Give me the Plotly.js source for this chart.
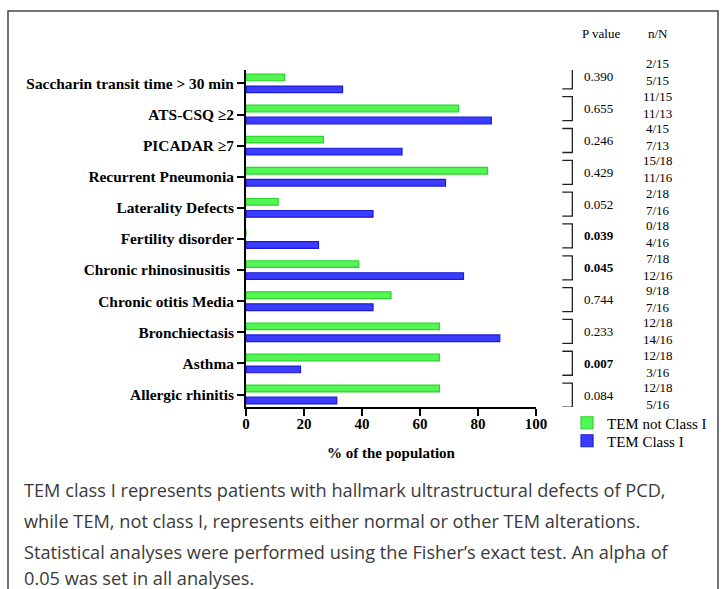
<!DOCTYPE html>
<html>
<head>
<meta charset="utf-8">
<script src="https://cdn.plot.ly/plotly-3.0.1.min.js"></script>
<style>html,body{margin:0;padding:0;background:#fff;}#chart{width:722px;height:589px;}</style>
</head>
<body>
<div id="chart"></div>
<script>
var categories = ["Saccharin transit time > 30 min", "ATS-CSQ \u22652", "PICADAR \u22657", "Recurrent Pneumonia", "Laterality Defects", "Fertility disorder", "Chronic rhinosinusitis\u00a0", "Chronic otitis Media", "Bronchiectasis", "Asthma", "Allergic rhinitis"];
var notClassI = [13.3, 73.3, 26.7, 83.3, 11.1, 0, 38.9, 50.0, 66.7, 66.7, 66.7];
var classI = [33.3, 84.6, 53.8, 68.8, 43.8, 25.0, 75.0, 43.8, 87.5, 18.8, 31.3];
var pValues = ["0.390", "0.655", "0.246", "0.429", "0.052", "0.039", "0.045", "0.744", "0.233", "0.007", "0.084"];
var significant = [false, false, false, false, false, true, true, false, false, true, false];
var nNotClassI = ["2/15", "11/15", "4/15", "15/18", "2/18", "0/18", "7/18", "9/18", "12/18", "12/18", "12/18"];
var nClassI = ["5/15", "11/13", "7/13", "11/16", "7/16", "4/16", "12/16", "7/16", "14/16", "3/16", "5/16"];
var seriesNames = ["TEM not Class I", "TEM Class I"];
var xTicks = [0, 20, 40, 60, 80, 100];
var captionLines = [
  "TEM class I represents patients with hallmark ultrastructural defects of PCD,",
  "while TEM, not class I, represents either normal or other TEM alterations.",
  "Statistical analyses were performed using the Fisher\u2019s exact test. An alpha of",
  "0.05 was set in all analyses."
];

var serif = "Liberation Serif, Times New Roman, serif";

var traces = [
  {type: "bar", orientation: "h", name: seriesNames[0], y: categories, x: notClassI,
   width: 0.215, offset: -0.3, legend: "legend",
   marker: {color: "#55f555", line: {color: "#2bd62b", width: 1.2}}, hoverinfo: "x+y"},
  {type: "bar", orientation: "h", name: seriesNames[1], y: categories, x: classI,
   width: 0.215, offset: 0.085, legend: "legend2",
   marker: {color: "#3c3cff", line: {color: "#1c1cd8", width: 1.2}}, hoverinfo: "x+y"}
];

// pixel per category unit (plot height 337 px over 10.83 units)
var ppu = 337 / 10.83;
var annotations = [];
var shapes = [];
var pX = 1.158, nX = 1.42, brX = 1.108;
annotations.push({xref: "paper", yref: "paper", x: 1.224, y: 1.107, text: "P value", showarrow: false,
  xanchor: "center", yanchor: "middle", font: {family: serif, size: 13, color: "#000"}});
annotations.push({xref: "paper", yref: "paper", x: nX, y: 1.107, text: "n/N", showarrow: false,
  xanchor: "center", yanchor: "middle", font: {family: serif, size: 13, color: "#000"}});
for (var i = 0; i < categories.length; i++) {
  var yp = i + (-6.5 + 0.7 * i) / ppu;
  var yn = i + (-11 + 1.25 * i) / ppu;
  annotations.push({xref: "paper", yref: "y", x: pX, y: yp, text: significant[i] ? "<b>" + pValues[i] + "</b>" : pValues[i],
    showarrow: false, xanchor: "left", yanchor: "middle", font: {family: serif, size: 13, color: "#000"}});
  annotations.push({xref: "paper", yref: "y", x: nX, y: yn, text: nNotClassI[i] + "<br>" + nClassI[i],
    showarrow: false, xanchor: "center", yanchor: "middle", font: {family: serif, size: 13, color: "#000"}});
  shapes.push({type: "path", xref: "paper", yref: "y", xsizemode: "pixel", ysizemode: "pixel",
    xanchor: brX, yanchor: yp, path: "M -5 12 H 5 V -12 H -5",
    line: {color: "#222", width: 1.3}});
}
var capY = [-0.2463, -0.3383, -0.4288, -0.5074];
for (var k = 0; k < captionLines.length; k++) {
  annotations.push({xref: "paper", yref: "paper", x: -0.7724, y: capY[k], text: captionLines[k], showarrow: false,
    xanchor: "left", yanchor: "middle", font: {family: "Open Sans, sans-serif", size: 18.2, color: "#3a3a3a"}});
}
// frame
shapes.push({type: "path", xref: "paper", yref: "paper", path: "M -0.8207 -0.6 L -0.8207 1.175 L 1.6276 1.175 L 1.6276 -0.6",
  line: {color: "#444", width: 1.5}});

var legendStyle = function (yv) {
  return {x: 1.107, y: yv, xanchor: "left", yanchor: "middle", bgcolor: "rgba(0,0,0,0)",
    font: {family: serif, size: 15, color: "#000"}, traceorder: "normal", tracegroupgap: 0};
};

var layout = {
  width: 722, height: 589,
  margin: {l: 246, r: 186, t: 70, b: 182, autoexpand: false},
  paper_bgcolor: "#fff", plot_bgcolor: "#fff",
  barmode: "overlay",
  showlegend: true,
  legend: legendStyle(-0.0475),
  legend2: legendStyle(-0.1009),
  xaxis: {range: [0, 100], tickvals: xTicks, ticktext: xTicks.map(String), showgrid: false, zeroline: false,
    showline: true, linecolor: "#000", linewidth: 2, ticks: "outside", ticklen: 7, tickwidth: 2, tickcolor: "#000",
    ticklabelstandoff: -5, automargin: false,
    tickfont: {family: serif, size: 15, color: "#000", weight: "bold"},
    title: {text: "<b>% of the population</b>", font: {family: serif, size: 15, color: "#000"}, standoff: 16}},
  yaxis: {type: "category", categoryarray: categories, categoryorder: "array", range: [10.4, -0.43],
    showgrid: false, zeroline: false, showline: true, linecolor: "#000", linewidth: 2, automargin: false,
    ticks: "outside", ticklen: 7, tickwidth: 2, tickcolor: "#000",
    tickfont: {family: serif, size: 15.4, color: "#000", weight: "bold"}},
  annotations: annotations,
  shapes: shapes
};
Plotly.newPlot("chart", traces, layout, {displayModeBar: false, staticPlot: true});
</script>
</body>
</html>
